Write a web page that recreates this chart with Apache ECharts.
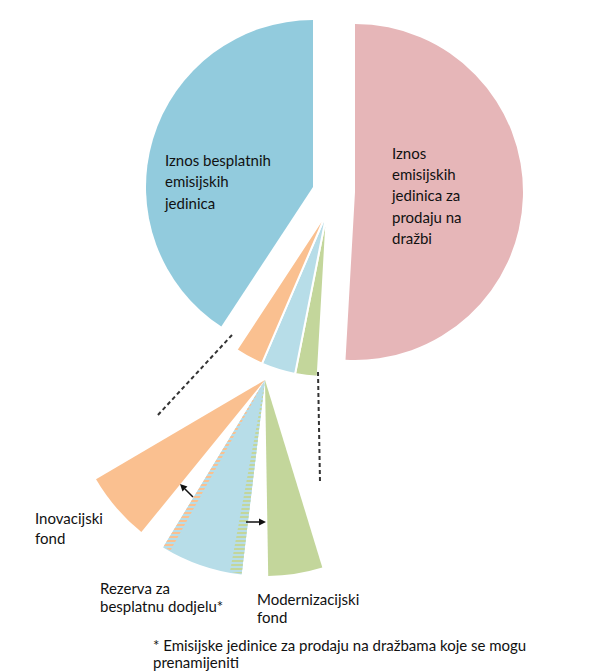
<!DOCTYPE html>
<html><head><meta charset="utf-8">
<script src="https://cdn.jsdelivr.net/npm/echarts@6/dist/echarts.min.js"></script>
<style>html,body{margin:0;padding:0;background:#fff}#c{width:603px;height:671px}</style>
</head><body><div id="c"></div>
<script>
// ---- data ----
const categories = ['Iznos emisijskih jedinica za prodaju na dražbi', 'Modernizacijski fond', 'Rezerva za besplatnu dodjelu*', 'Inovacijski fond', 'Iznos besplatnih emisijskih jedinica'];
const shares = [50.9, 2.2, 3.35, 2.8, 40.75];
const colors = ['#E6B6B8', '#C3D69B', '#B7DDE8', '#FAC090', '#92CBDD'];
const pieLabels = ['Iznos\nemisijskih\njedinica za\nprodaju na\ndražbi', 'Iznos besplatnih\nemisijskih\njedinica'];
const detailLabels = ['Modernizacijski\nfond', 'Rezerva za\nbesplatnu dodjelu*', 'Inovacijski\nfond'];
const footnote = '* Emisijske jedinice za prodaju na dražbama koje se mogu\nprenamijeniti';

// ---- layout ----
const FONT = 'Lato, "Open Sans", sans-serif';
const TXT = '#111';
const clockToEc = t => ((90 - t) % 360 + 360) % 360;

function topSeries(visible, center, radius, border) {
  return {
    type: 'pie', center: center, radius: [0, radius], startAngle: 90, clockwise: true,
    silent: true, label: { show: false }, labelLine: { show: false }, avoidLabelOverlap: false,
    emphasis: { disabled: true },
    data: shares.map((v, i) => ({
      name: categories[i], value: v,
      itemStyle: visible.includes(i)
        ? { color: colors[i], borderColor: '#fff', borderWidth: border }
        : { color: 'rgba(0,0,0,0)', borderWidth: 0 }
    }))
  };
}

const series = [
  topSeries([4], [313, 187], 167, 0),
  topSeries([0], [355, 192], 168, 0),
  topSeries([1, 2, 3], [327, 212], 165, 2)
];

// detail (exploded) wedge of the three small shares
const DCENTER = [265, 380], DR = 196, DEG = 7.3, GAP = 7.8, START = 163;
const detailIdx = [1, 2, 3];
let theta = START;
const spans = {};
detailIdx.forEach(i => {
  const ang = shares[i] * DEG;
  spans[i] = [theta, theta + ang];
  series.push({
    type: 'pie', center: DCENTER, radius: [0, DR], startAngle: clockToEc(theta), clockwise: true,
    silent: true, label: { show: false }, labelLine: { show: false }, emphasis: { disabled: true },
    data: [
      { name: categories[i], value: ang, itemStyle: { color: colors[i] } },
      { name: '', value: 360 - ang, itemStyle: { color: 'rgba(0,0,0,0)' } }
    ]
  });
  theta += ang + GAP;
});
// hatched edges of the reserve (transferable parts)
function hatch(t0, w, col) {
  series.push({
    type: 'pie', center: DCENTER, radius: [0, DR - 1], startAngle: clockToEc(t0), clockwise: true,
    silent: true, label: { show: false }, labelLine: { show: false }, emphasis: { disabled: true },
    data: [
      { value: w, itemStyle: { color: colors[2], decal: { symbol: 'rect', color: col, dashArrayX: [1, 0], dashArrayY: [2, 2], rotation: 0, symbolSize: 1 } } },
      { value: 360 - w, itemStyle: { color: 'rgba(0,0,0,0)' } }
    ]
  });
}
hatch(spans[2][0], 3.5, colors[1]);
hatch(spans[2][1] - 2.3, 2.3, colors[3]);

const dash = { stroke: '#333', lineWidth: 2, lineDash: [4, 3] };
function arrow(x1, y1, x2, y2) {
  const dx = x2 - x1, dy = y2 - y1, L = Math.hypot(dx, dy), ux = dx / L, uy = dy / L;
  const bx = x2 - ux * 7, by = y2 - uy * 7, px = -uy * 3.5, py = ux * 3.5;
  return [
    { type: 'line', z: 100, shape: { x1, y1, x2: bx, y2: by }, style: { stroke: '#111', lineWidth: 1.5 } },
    { type: 'polygon', z: 100, shape: { points: [[x2, y2], [bx + px, by + py], [bx - px, by - py]] }, style: { fill: '#111' } }
  ];
}
function text(str, x, y, lh, size) {
  return { type: 'text', z: 100, x, y, style: { text: str, font: size + 'px ' + FONT, fill: TXT, lineHeight: lh, verticalAlign: 'top', align: 'left' } };
}

const graphic = [
  { type: 'line', z: 100, shape: { x1: 232, y1: 335, x2: 157, y2: 416 }, style: dash },
  { type: 'line', z: 100, shape: { x1: 318, y1: 372, x2: 320, y2: 482 }, style: dash },
  ...arrow(193, 497, 180, 484),
  ...arrow(246, 522, 266, 522),
  text(pieLabels[1], 165, 149, 21.5, 15),
  text(pieLabels[0], 392, 142, 21.3, 15),
  text(detailLabels[2], 35, 508, 20, 15),
  text(detailLabels[1], 100, 579, 18, 15),
  text(detailLabels[0], 257, 590, 18, 15),
  text(footnote, 153, 636, 17, 15)
];

const chart = echarts.init(document.getElementById('c'), null, { renderer: 'svg' });
chart.setOption({ animation: false, backgroundColor: '#fff', series, graphic: { elements: graphic } });
</script></body></html>
